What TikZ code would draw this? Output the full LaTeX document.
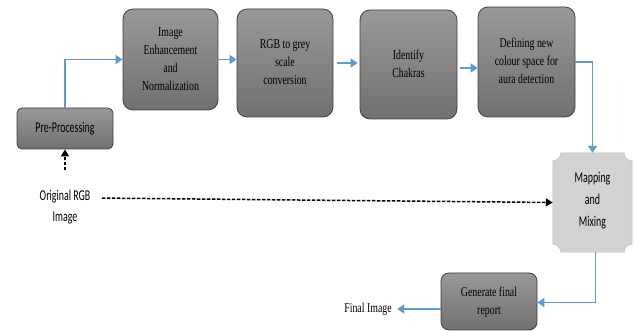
\documentclass[tikz,border=0pt]{standalone}
\usepackage{fontspec}
\setmainfont{Liberation Serif}
\newfontfamily\calibri{Carlito}
\usetikzlibrary{arrows.meta,calc}
\definecolor{flowblue}{HTML}{5B9BD5}
\definecolor{boxedge}{HTML}{3F3F3F}
\definecolor{mixgrey}{HTML}{D2D2D2}
% narrow, tall lettering as in the original figure
\newcommand\squeeze[2]{\scalebox{#1}[1]{\begin{tabular}{@{}c@{}}#2\end{tabular}}}

\tikzset{
  stage/.style={draw=boxedge, line width=0.8pt, rounded corners=10pt,
    top color=black!40, bottom color=black!56, align=center, inner sep=2pt,
    font=\fontsize{13.5}{18}\selectfont},
  flow/.style={draw=flowblue, line width=1.8pt, -{Triangle[length=7pt,width=9pt]}},
  dashflow/.style={draw=black, line width=1.5pt, dash pattern=on 3.5pt off 1.5pt,
    -{Triangle[length=7pt,width=8pt]}},
}

\begin{document}
\begin{tikzpicture}[x=1pt,y=1pt]
  \useasboundingbox (0,0) rectangle (634,331);
  % processing stages
  \node[stage, rounded corners=5pt, minimum width=96pt, minimum height=41pt,
    font=\calibri\fontsize{15}{18}\selectfont] (pre) at (65,202.5) {\squeeze{0.66}{Pre-Processing}};
  \node[stage, minimum width=95pt, minimum height=101pt] (enhance) at (170.5,271.5)
    {\squeeze{0.73}{Image\\Enhancement\\and\\Normalization}};
  \node[stage, minimum width=96pt, minimum height=108pt] (grey) at (285,268)
    {\squeeze{0.73}{RGB to grey\\scale\\conversion}};
  \node[stage, minimum width=97pt, minimum height=109pt] (chakra) at (408.5,266.5)
    {\squeeze{0.73}{Identify\\Chakras}};
  \node[stage, minimum width=97pt, minimum height=110pt] (colspace) at (526.5,269)
    {\squeeze{0.73}{Defining new\\colour space for\\aura detection}};
  \node[stage, rounded corners=8pt, minimum width=96pt, minimum height=57pt] (report) at (489,29.5)
    {\squeeze{0.73}{Generate final\\report}};
  % mapping block with cut corners
  \node[minimum width=79pt, minimum height=99pt] (mixing) at (592.5,128.5) {};
  \fill[mixgrey, draw=black!25, line width=0.5pt]
    ($(mixing.north east)+(-8,0)$) arc[start angle=180, end angle=270, radius=8pt]
    -- ($(mixing.south east)+(0,8)$) arc[start angle=90, end angle=180, radius=8pt]
    -- ($(mixing.south west)+(8,0)$) arc[start angle=0, end angle=90, radius=8pt]
    -- ($(mixing.north west)+(0,-8)$) arc[start angle=270, end angle=360, radius=8pt]
    -- cycle;
  \node[font=\calibri\fontsize{15}{22}\selectfont] at ([yshift=2pt]mixing.center)
    {\squeeze{0.66}{Mapping\\and\\Mixing}};
  % input / output labels
  \node[font=\calibri\fontsize{15}{21}\selectfont] (orig) at (65,124) {\squeeze{0.66}{Original RGB\\Image}};
  \node[font=\fontsize{13.5}{16}\selectfont] (final) at (368,22) {\squeeze{0.73}{Final Image}};

  % connectors
  \draw[flow] (pre.north) |- (enhance.west);
  \draw[flow] (enhance.east) -- (enhance.east -| grey.west);
  \draw[flow, shorten <=4pt, shorten >=2pt] (grey.east) -- (grey.east -| chakra.west);
  \draw[flow, shorten <=3pt] ([yshift=-3.5pt]chakra.east) -- ([yshift=-3.5pt]chakra.east -| colspace.west);
  \draw[flow] (colspace.east) -| (mixing.north);
  \draw[flow] ([xshift=3pt]mixing.south) |- ([yshift=-1pt]report.east);
  \draw[flow, shorten >=2pt] (report.west |- final.east) -- (final.east);
  \draw[dashflow, shorten <=12pt] (orig.north) -- (pre.south);
  \draw[dashflow, shorten <=8pt] ([yshift=9pt]orig.east) -- (mixing.west);
\end{tikzpicture}
\end{document}
